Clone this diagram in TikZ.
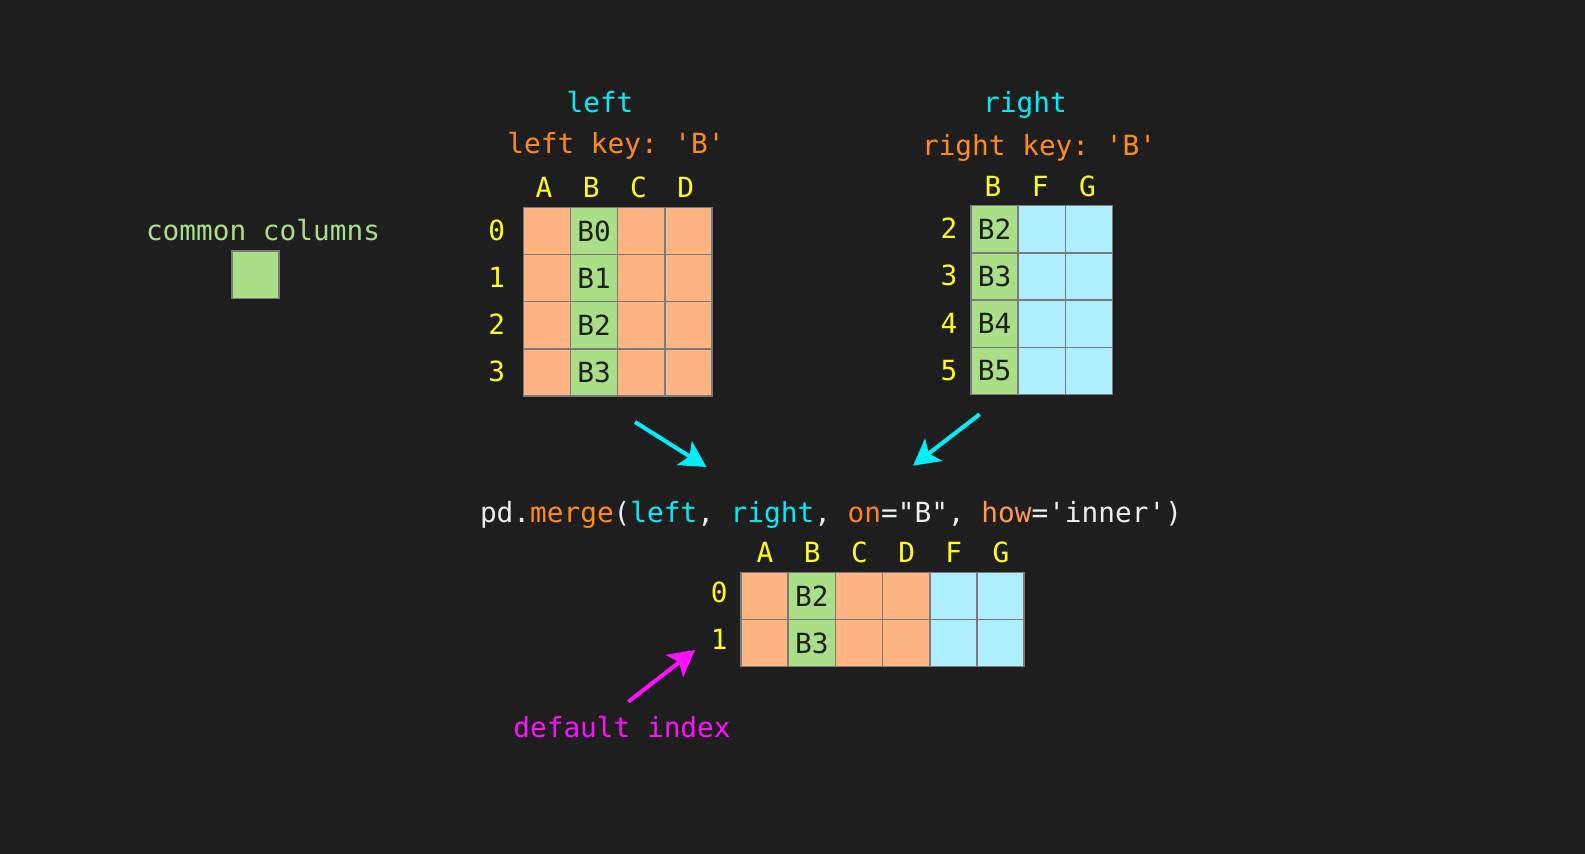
\documentclass[tikz,border=0pt]{standalone}
\usepackage{fontspec}
\setmonofont{DejaVu Sans Mono}
\usepackage{xcolor}
\usepackage{tikz}
\usetikzlibrary{arrows.meta}
\definecolor{pdbg}{HTML}{1E1E1E}
\definecolor{pdgrid}{HTML}{7A7A7A}
\definecolor{pdink}{HTML}{1E1E1E}
\definecolor{pdorange}{HTML}{FFB482}
\definecolor{pdgreen}{HTML}{AADF88}
\definecolor{pdblue}{HTML}{AEEEFF}
\definecolor{pdcyan}{HTML}{00EEF8}
\definecolor{pdkey}{HTML}{FF8C1A}
\definecolor{pdon}{HTML}{FF7F2A}
\definecolor{pdhow}{HTML}{FF9955}
\definecolor{pdyellow}{HTML}{FFFF1A}
\definecolor{pdmagenta}{HTML}{FF10FF}
\definecolor{pdwhite}{HTML}{EEEEEE}
\newcommand{\pdfont}{\ttfamily\fontsize{15.8}{18}\selectfont}
\tikzset{
  cellbase/.style={rectangle, draw=pdgrid, line width=0.85pt, minimum width=0.944cm,
                   minimum height=0.944cm, inner sep=0pt, font=\pdfont, text=pdink},
  lcell/.style   ={cellbase, fill=pdorange},
  rcell/.style   ={cellbase, fill=pdblue},
  keycell/.style ={cellbase, fill=pdgreen},
  colhead/.style ={font=\pdfont, text=pdyellow, inner sep=0pt},
  rowhead/.style ={font=\pdfont, text=pdyellow, inner sep=0pt},
  title/.style   ={font=\pdfont, text=pdcyan, inner sep=0pt},
  keytxt/.style  ={font=\pdfont, text=pdkey, inner sep=0pt},
  legtxt/.style  ={font=\pdfont, text=pdgreen, inner sep=0pt},
  note/.style    ={font=\pdfont, text=pdmagenta, inner sep=0pt},
  feed/.style    ={-{Stealth[length=0.52cm, width=0.56cm, inset=0.12cm]}, draw=pdcyan, line width=2.3pt},
  point/.style   ={-{Stealth[length=0.52cm, width=0.56cm, inset=0.12cm]}, draw=pdmagenta, line width=2.3pt},
}

\begin{document}
\begin{tikzpicture}[x=0.02cm, y=-0.02cm]
  \fill[pdbg] (0,0) rectangle (1585,854);
  \useasboundingbox (0,0) rectangle (1585,854);

  % legend
  \node[legtxt]  (common) at (263,230)     {common columns};
  \node[keycell] (swatch) at (255.4,274.7) {};

  % left frame
  \node[title]  (ltitle) at (600,102) {left};
  \node[keytxt] (lkey)   at (616,146) {left key: 'B'};
  \foreach \lab [count=\i from 0] in {A,B,C,D}
    \node[colhead] (lh\lab) at (544+47.2*\i,187.5) {\lab};
  \foreach \r in {0,...,3} {
    \node[rowhead] (lr\r) at (496.7,230+47.2*\r) {\r};
    \node[lcell]   (la\r) at (546.9,230.9+47.2*\r) {};
    \node[keycell] (lb\r) at (594.1,230.9+47.2*\r) {\raisebox{-1.5pt}{B\r}};
    \node[lcell]   (lc\r) at (641.3,230.9+47.2*\r) {};
    \node[lcell]   (ld\r) at (688.5,230.9+47.2*\r) {};
  }

  % right frame
  \node[title]  (rtitle) at (1025,105)  {right};
  \node[keytxt] (rkey)   at (1039,148)  {right key: 'B'};
  \foreach \lab [count=\i from 0] in {B,F,G}
    \node[colhead] (rh\lab) at (993+47.2*\i,186.5) {\lab};
  \foreach \r [count=\i from 0] in {2,...,5} {
    \node[rowhead] (rr\r) at (949,228.5+47.2*\i) {\r};
    \node[keycell] (rb\r) at (994.6,229.3+47.2*\i) {B\r};
    \node[rcell]   (rf\r) at (1041.8,229.3+47.2*\i) {};
    \node[rcell]   (rg\r) at (1089,229.3+47.2*\i) {};
  }

  % merge call and result
  \node[font=\pdfont, text=pdwhite, inner sep=0pt] (call) at (831,515)
    {pd.\textcolor{pdkey}{merge}(\textcolor{pdcyan}{left}, \textcolor{pdcyan}{right}, \textcolor{pdon}{on}="B", \textcolor{pdhow}{how}='inner')};
  \foreach \lab [count=\i from 0] in {A,B,C,D,F,G}
    \node[colhead] (mh\lab) at (765+47.2*\i,552.5) {\lab};
  \foreach \r/\k in {0/2,1/3} {
    \node[rowhead] (mr\r) at (719.3,592.5+47.2*\r) {\r};
    \node[lcell]   (ma\r) at (764.6,595.9+47.2*\r) {};
    \node[keycell] (mb\r) at (811.8,595.9+47.2*\r) {\raisebox{-1.5pt}{B\k}};
    \node[lcell]   (mc\r) at (859,595.9+47.2*\r) {};
    \node[lcell]   (md\r) at (906.2,595.9+47.2*\r) {};
    \node[rcell]   (mf\r) at (953.4,595.9+47.2*\r) {};
    \node[rcell]   (mg\r) at (1000.6,595.9+47.2*\r) {};
  }
  \node[note] (defidx) at (622,727) {default index};

  % arrows
  \coordinate (lfrom) at (635,422);
  \coordinate (lto)   at (706.5,467);
  \coordinate (rfrom) at (979.6,414.3);
  \coordinate (rto)   at (913,465.7);
  \coordinate (dfrom) at (628.4,701.7);
  \coordinate (dto)   at (695,650);
  \draw[feed]  (lfrom) -- (lto);
  \draw[feed]  (rfrom) -- (rto);
  \draw[point] (dfrom) -- (dto);
\end{tikzpicture}
\end{document}
